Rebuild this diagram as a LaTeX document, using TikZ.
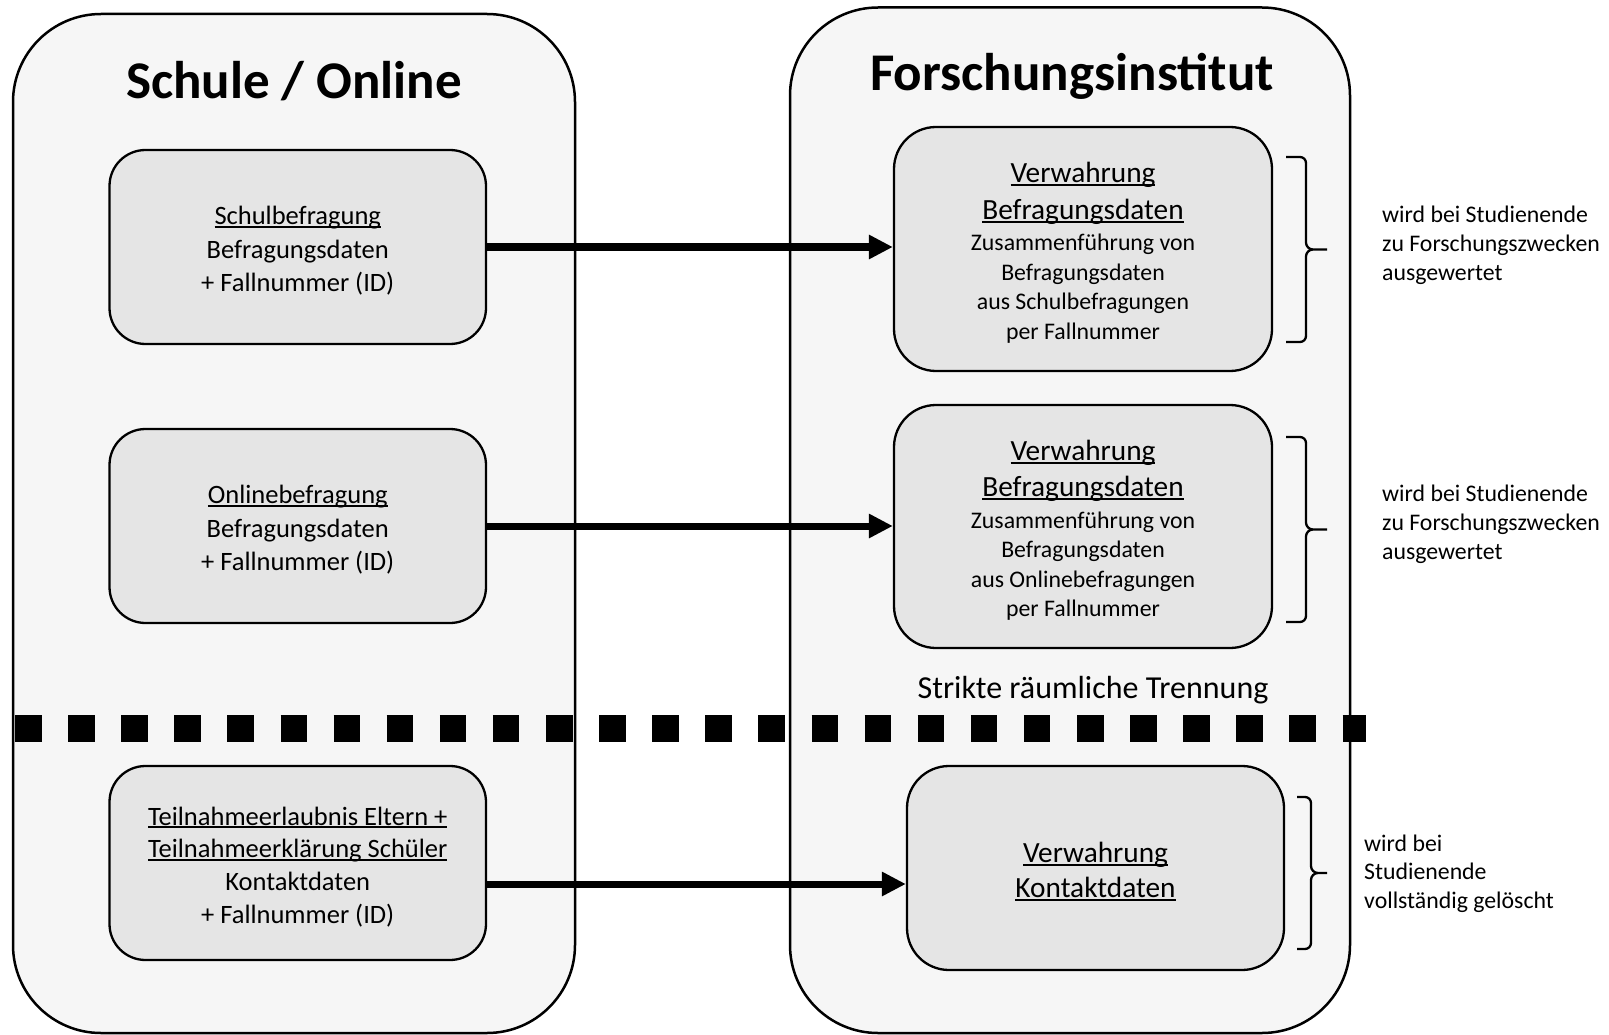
\documentclass[tikz,border=0pt]{standalone}
\usepackage{fontspec}
\setmainfont{Carlito}
\usetikzlibrary{arrows.meta}
\definecolor{contfill}{HTML}{F6F6F6}
\definecolor{boxfill}{HTML}{E5E5E5}
\newsavebox\myulbox
\newcommand\myul[1]{\sbox\myulbox{#1}\rlap{\rule[-0.12em]{\wd\myulbox}{0.07em}}\usebox\myulbox}
% brace: x of vertical stroke, top y, bottom y, stub length, tip length
\newcommand\rightbrace[5]{%
  \draw[bracestyle] (#1-#4,#2) -- (#1-6,#2) to[out=0,in=90] (#1,#2+6)
    -- (#1,{(#2+#3)/2-7}) to[out=-90,in=180] (#1+7,{(#2+#3)/2}) -- (#1+#5,{(#2+#3)/2})
    (#1+7,{(#2+#3)/2}) to[out=180,in=90] (#1,{(#2+#3)/2+7})
    -- (#1,#3-6) to[out=-90,in=0] (#1-6,#3) -- (#1-#4,#3);}
\begin{document}
\begin{tikzpicture}[x=1pt,y=-1pt,
  container/.style={draw=black, line width=2.5pt, fill=contfill, rounded corners=88pt, inner sep=0pt},
  leftbox/.style={draw=black, line width=2.3pt, fill=boxfill, rounded corners=36pt, align=center, inner sep=0pt,
     minimum width=376.5pt, minimum height=194pt, font=\fontsize{26.5}{33.3}\selectfont},
  rightbox/.style={draw=black, line width=2.3pt, fill=boxfill, rounded corners=42pt, align=center, inner sep=0pt,
     minimum width=378pt, font=\fontsize{23.8}{29.5}\selectfont},
  titlestyle/.style={font=\fontsize{53}{60}\selectfont\bfseries, inner sep=0pt},
  notestyle/.style={align=left, inner sep=0pt, font=\fontsize{23.8}{29.2}\selectfont},
  flow/.style={line width=7pt, -{Triangle[length=24pt,width=23pt]}},
  bracestyle/.style={line width=2.3pt}]
\useasboundingbox (0,0) rectangle (1609,1035);

% containers
\node[container, minimum width=562pt, minimum height=1019pt] (schule) at (294,523.5) {};
\node[container, minimum width=560pt, minimum height=1025.5pt] (institut) at (1070,520.25) {};

% separation line
\draw[line width=27pt, dash pattern=on 26.5pt off 26.6pt] (15,728.5) -- (1366,728.5);

% titles
\node[titlestyle, anchor=base] (t1) at (294,99) {Schule / Online};
\node[titlestyle, anchor=base] (t2) at (1072,91) {Forschungsinstitut};

% left boxes
\node[leftbox] (sb) at (297.75,247) {\rule{0pt}{26pt}\myul{Schulbefragung}\\Befragungsdaten\\+ Fallnummer (ID)};
\node[leftbox] (ob) at (297.75,526) {\rule{0pt}{26pt}\myul{Onlinebefragung}\\Befragungsdaten\\+ Fallnummer (ID)};
\node[leftbox, font=\fontsize{26.5}{32.7}\selectfont] (tk) at (297.75,863) {\rule{0pt}{26pt}\myul{Teilnahmeerlaubnis Eltern +}\\\myul{Teilnahmeerklärung Schüler}\\Kontaktdaten\\+ Fallnummer (ID)};

% right boxes
\node[rightbox, minimum height=244pt] (vb1) at (1083,249) {{\fontsize{29.3}{33.3}\selectfont\rule{0pt}{28pt}\myul{Verwahrung}}\\[7pt]{\fontsize{29.3}{33.3}\selectfont\myul{Befragungsdaten}}\\[2pt]Zusammenführung von\\Befragungsdaten\\aus Schulbefragungen\\per Fallnummer};
\node[rightbox, minimum height=243pt] (vb2) at (1083,526.5) {{\fontsize{29.3}{33.3}\selectfont\rule{0pt}{28pt}\myul{Verwahrung}}\\[7pt]{\fontsize{29.3}{33.3}\selectfont\myul{Befragungsdaten}}\\[2pt]Zusammenführung von\\Befragungsdaten\\aus Onlinebefragungen\\per Fallnummer};
\node[rightbox, minimum width=377pt, minimum height=204pt, font=\fontsize{29.3}{35.3}\selectfont] (vk) at (1095.5,868) {\rule{0pt}{27.5pt}\myul{Verwahrung}\\\myul{Kontaktdaten}};

% separation label
\node[anchor=base, inner sep=0pt, font=\fontsize{32}{37}\selectfont] (trennung) at (1093,698) {Strikte räumliche Trennung};

% arrows
\draw[flow] (sb.east) -- (sb.east -| vb1.west);
\draw[flow] (ob.east) -- (ob.east -| vb2.west);
\draw[flow] ([yshift=-21pt]tk.east) -- ([yshift=-21pt]tk.east -| vk.west);

% braces
\rightbrace{1306}{157}{342}{20}{21}
\rightbrace{1306}{437}{622}{20}{21}
\rightbrace{1311}{797}{949}{14}{16}

% notes
\node[notestyle, anchor=west] (n1) at (1382,245) {wird bei Studienende\\zu Forschungszwecken\\ausgewertet};
\node[notestyle, anchor=west] (n2) at (1382,524.5) {wird bei Studienende\\zu Forschungszwecken\\ausgewertet};
\node[notestyle, anchor=west, font=\fontsize{23.8}{28.7}\selectfont] (n3) at (1364,873.5) {wird bei\\Studienende\\vollständig gelöscht};
\end{tikzpicture}
\end{document}
